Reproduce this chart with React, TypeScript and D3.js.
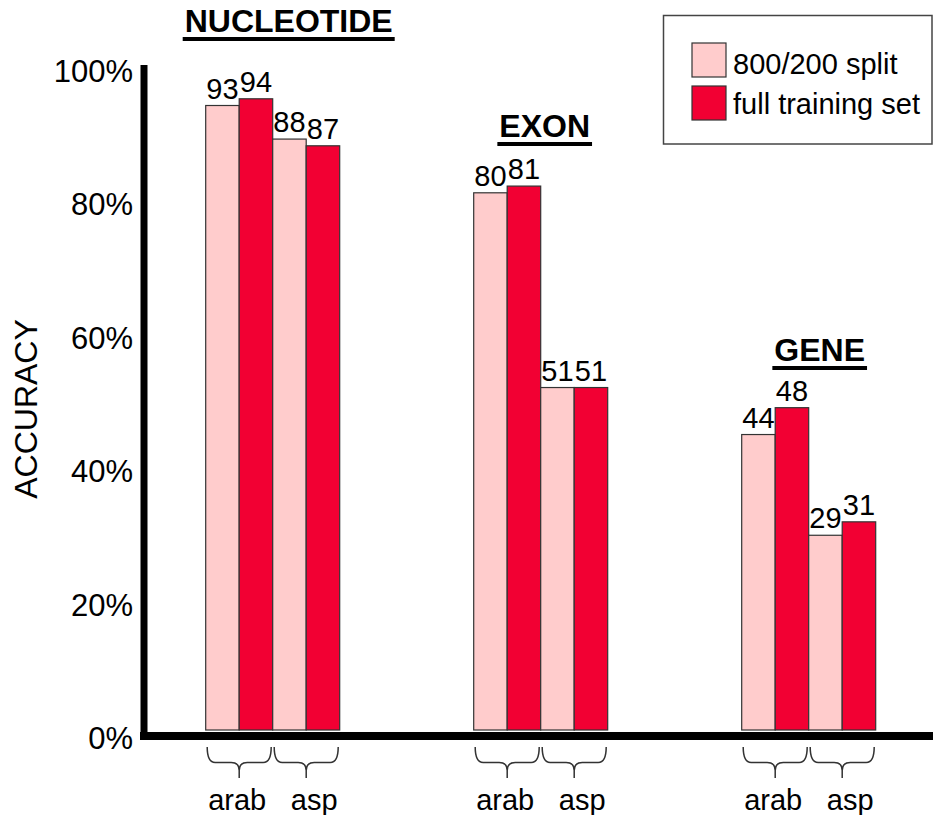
import React, { useRef, useEffect } from "react";
import * as d3 from "d3";

// data
const groups = ["NUCLEOTIDE", "EXON", "GENE"];
const organisms = ["arab", "asp"];
const seriesNames = ["800/200 split", "full training set"];
const arabSplit = [93, 80, 44];
const arabFull = [94, 81, 48];
const aspSplit = [88, 51, 29];
const aspFull = [87, 51, 31];
const yTicks = [0, 20, 40, 60, 80, 100];

const seriesColors = ["#FFCCCC", "#F20033"];
const FONT = "'Liberation Sans', Arial, Helvetica, sans-serif";

// title placement per group: shift from group centre, baseline
const titleLayout = [
  { dx: 16, y: 32 },
  { dx: 4, y: 137 },
  { dx: 11, y: 361 },
];
const labelShift = [-2, 8];

const App = () => {
  const svgRef = useRef<SVGSVGElement>(null);

  useEffect(() => {
    document.body.style.margin = "0";
    if (!svgRef.current) return;
    const width = 933;
    const height = 815;

    const svg = d3.select(svgRef.current).attr("width", width).attr("height", height);
    svg.selectAll("*").remove();

    const values = [
      [arabSplit, arabFull],
      [aspSplit, aspFull],
    ];

    const x = d3.scaleBand<string>().domain(groups).range([205.7, 875.7]).paddingInner(0.5);
    const xOrg = d3.scaleBand<string>().domain(organisms).range([0, x.bandwidth()]);
    const xSer = d3.scaleBand<string>().domain(seriesNames).range([0, xOrg.bandwidth()]);
    const y = d3.scaleLinear().domain([0, 100]).range([730, 58.5]);
    const yLabel = d3.scaleLinear().domain([0, 100]).range([738, 71]);

    // axes
    svg.append("line")
      .attr("x1", 144).attr("x2", 144).attr("y1", 65).attr("y2", 740)
      .attr("stroke", "#000").attr("stroke-width", 7);
    svg.append("line")
      .attr("x1", 140).attr("x2", width).attr("y1", 736).attr("y2", 736)
      .attr("stroke", "#000").attr("stroke-width", 8);

    svg.append("g")
      .selectAll("text")
      .data(yTicks)
      .enter()
      .append("text")
      .attr("x", 133)
      .attr("y", (d) => yLabel(d) + 11)
      .attr("text-anchor", "end")
      .style("font-family", FONT)
      .style("font-size", "31px")
      .text((d) => d + "%");

    svg.append("text")
      .attr("transform", "translate(37,409) rotate(-90)")
      .attr("text-anchor", "middle")
      .style("font-family", FONT)
      .style("font-size", "32px")
      .text("ACCURACY");

    // bars
    groups.forEach((g, gi) => {
      const gx = x(g)!;
      organisms.forEach((o, oi) => {
        const ox = gx + xOrg(o)!;
        seriesNames.forEach((s, si) => {
          const v = values[oi][si][gi];
          const bx = ox + xSer(s)!;
          svg.append("rect")
            .attr("x", bx)
            .attr("y", y(v))
            .attr("width", xSer.bandwidth())
            .attr("height", y(0) - y(v))
            .attr("fill", seriesColors[si])
            .attr("stroke", "#333")
            .attr("stroke-width", 1.2);
          svg.append("text")
            .attr("x", bx + xSer.bandwidth() / 2)
            .attr("y", y(v) - 7)
            .attr("text-anchor", "middle")
            .style("font-family", FONT)
            .style("font-size", "29px")
            .text(v);
        });

        // curly brace under the pair
        const x0 = ox + 1.5;
        const x1 = ox + xOrg.bandwidth() - 1.5;
        const xc = (x0 + x1) / 2;
        const y0 = 747, ym = 762.5, y1 = 778, r = 8;
        const p = d3.path();
        p.moveTo(x0, y0);
        p.quadraticCurveTo(x0, ym, x0 + r, ym);
        p.lineTo(xc - r, ym);
        p.quadraticCurveTo(xc, ym, xc, ym + r);
        p.lineTo(xc, y1);
        p.moveTo(xc, ym + r);
        p.quadraticCurveTo(xc, ym, xc + r, ym);
        p.lineTo(x1 - r, ym);
        p.quadraticCurveTo(x1, ym, x1, y0);
        svg.append("path")
          .attr("d", p.toString())
          .attr("fill", "none")
          .attr("stroke", "#333")
          .attr("stroke-width", 1.5);

        svg.append("text")
          .attr("x", ox + xOrg.bandwidth() / 2 + labelShift[oi])
          .attr("y", 810)
          .attr("text-anchor", "middle")
          .style("font-family", FONT)
          .style("font-size", "29px")
          .text(o);
      });

      // group title, underlined
      const t = titleLayout[gi];
      const cx = gx + x.bandwidth() / 2 + t.dx;
      const title = svg.append("text")
        .attr("x", cx)
        .attr("y", t.y)
        .attr("text-anchor", "middle")
        .style("font-family", FONT)
        .style("font-size", "32px")
        .style("font-weight", "bold")
        .text(g);
      const tw = (title.node() as SVGTextElement).getComputedTextLength();
      svg.append("line")
        .attr("x1", cx - tw / 2 - 2)
        .attr("x2", cx + tw / 2 + 2)
        .attr("y1", t.y + 7)
        .attr("y2", t.y + 7)
        .attr("stroke", "#000")
        .attr("stroke-width", 4);
    });

    // legend
    const legend = svg.append("g");
    legend.append("rect")
      .attr("x", 663.5).attr("y", 15.5).attr("width", 268.5).attr("height", 128.5)
      .attr("fill", "#fff").attr("stroke", "#444").attr("stroke-width", 1.5);
    const items = legend.selectAll("g")
      .data(seriesNames)
      .enter()
      .append("g")
      .attr("transform", (d, i) => `translate(692, ${43 + i * 43})`);
    items.append("rect")
      .attr("width", 34).attr("height", 34)
      .attr("fill", (d, i) => seriesColors[i])
      .attr("stroke", "#333").attr("stroke-width", 1.2);
    items.append("text")
      .attr("x", 41)
      .attr("y", (d, i) => 31 - i * 3)
      .style("font-family", FONT)
      .style("font-size", "29px")
      .text((d) => d);
  }, []);

  return (
    <div>
      <svg ref={svgRef} style={{ display: "block" }} />
    </div>
  );
};

export default App;
